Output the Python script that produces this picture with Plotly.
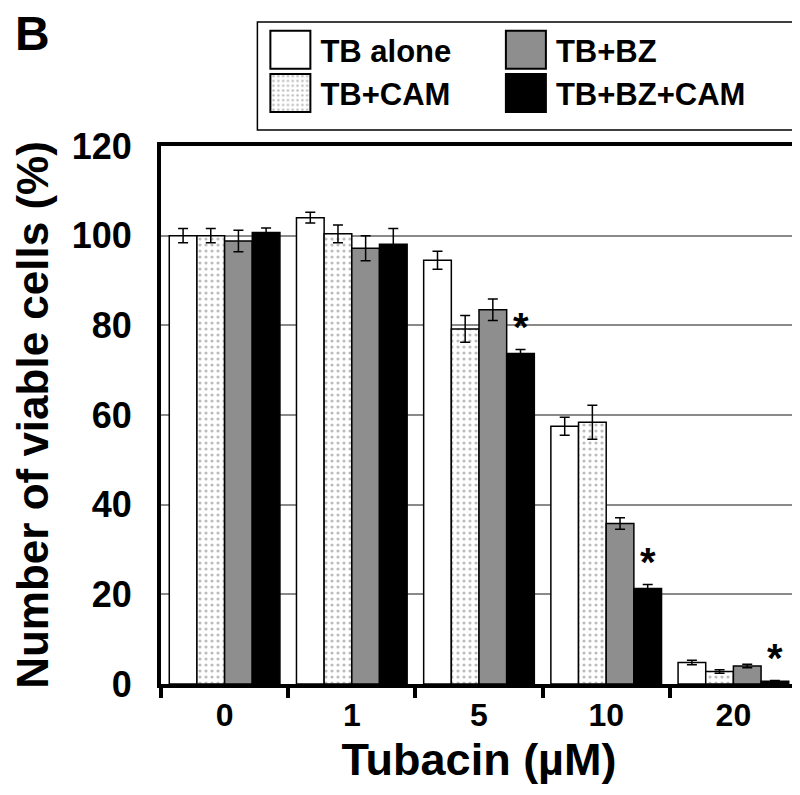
import plotly.graph_objects as go

categories = ["0", "1", "5", "10", "20"]
series_names = ["TB alone", "TB+CAM", "TB+BZ", "TB+BZ+CAM"]
tb_alone = [100.0, 104.0, 94.5, 57.5, 4.8]
tb_alone_err = [1.6, 1.2, 2.0, 2.0, 0.5]
tb_cam = [100.0, 100.4, 79.2, 58.4, 2.8]
tb_cam_err = [1.6, 2.0, 3.0, 3.8, 0.4]
tb_bz = [98.8, 97.2, 83.5, 35.8, 4.0]
tb_bz_err = [2.4, 2.8, 2.4, 1.3, 0.4]
tb_bz_cam = [100.7, 98.1, 73.7, 21.3, 0.6]
tb_bz_cam_err = [1.0, 3.5, 0.9, 0.9, 0.2]
significant = [False, False, True, True, True]

FONT = "Arial, Liberation Sans, sans-serif"
W, H = 800, 795
ML, MR, MT, MB = 153, 7, 138, 119
BARGAP = 0.13

values = [tb_alone, tb_cam, tb_bz, tb_bz_cam]
errors = [tb_alone_err, tb_cam_err, tb_bz_err, tb_bz_cam_err]
fills = ["white", "white", "#8e8e8e", "black"]
legends = ["legend", "legend", "legend2", "legend2"]

fig = go.Figure()
for name, v, e, c, lg in zip(series_names, values, errors, fills, legends):
    marker = dict(color=c, line=dict(color="black", width=1.5))
    if name == "TB+CAM":
        marker["pattern"] = dict(shape=".", fgcolor="#7a7a7a", bgcolor="white",
                                 size=6, solidity=0.22)
    fig.add_trace(go.Bar(
        x=categories, y=v, name=name, marker=marker, legend=lg, legendgroup=name,
        error_y=dict(type="data", array=e, visible=True, color="black",
                     thickness=1.5, width=5),
    ))

# significance stars above TB+BZ+CAM bars
plot_w = W - ML - MR
plot_h = H - MT - MB
bar_w = plot_w / len(categories) * (1 - BARGAP) / len(series_names)
for i, (v, e, s) in enumerate(zip(tb_bz_cam, tb_bz_cam_err, significant)):
    if s:
        fig.add_annotation(x=i, y=v + e + 5.0, xref="x", yref="y",
                           text="*", showarrow=False, xshift=1.5 * bar_w,
                           yanchor="middle",
                           font=dict(family=FONT, size=40, color="black", weight="bold"))

fig.add_annotation(x=(4 - ML) / plot_w, y=(H - MB + 3) / plot_h, xref="paper", yref="paper",
                   text="B", showarrow=False, xanchor="left", yanchor="top",
                   font=dict(family=FONT, size=48, color="black", weight="bold"))

# legend frame
fig.add_shape(type="rect", xref="paper", yref="paper",
              x0=(250 - ML) / plot_w, x1=(790 - ML) / plot_w,
              y0=(H - MB - 122) / plot_h, y1=(H - MB - 14) / plot_h,
              line=dict(color="black", width=1.5), fillcolor="rgba(0,0,0,0)")

legfont = dict(family=FONT, size=31, color="black", weight="bold")
fig.update_layout(
    width=W, height=H,
    margin=dict(l=ML, r=MR, t=MT, b=MB),
    paper_bgcolor="white", plot_bgcolor="white",
    barmode="group", bargap=BARGAP, bargroupgap=0,
    legend=dict(x=(253 - ML) / plot_w, y=(H - MB - 15) / plot_h,
                xanchor="left", yanchor="top", font=legfont, tracegroupgap=3,
                itemwidth=50, bgcolor="rgba(0,0,0,0)", traceorder="normal"),
    legend2=dict(x=(490 - ML) / plot_w, y=(H - MB - 15) / plot_h,
                 xanchor="left", yanchor="top", font=legfont, tracegroupgap=3,
                 itemwidth=50, bgcolor="rgba(0,0,0,0)", traceorder="normal"),
    xaxis=dict(type="category", showline=True, linecolor="black", linewidth=4,
               mirror=True, ticks="outside", tickson="boundaries", ticklen=10,
               tickwidth=4, tickcolor="black", tickangle=0,
               tickfont=dict(family=FONT, size=32, color="black", weight="bold"),
               title=dict(text="Tubacin (µM)", standoff=12,
                          font=dict(family=FONT, size=45, color="black", weight="bold"))),
    yaxis=dict(range=[0, 120], dtick=20, showline=True, linecolor="black",
               linewidth=4, mirror=True, ticks="", showgrid=True,
               gridcolor="#8a8a8a", gridwidth=1.5, zeroline=False,
               ticklabelstandoff=18,
               tickfont=dict(family=FONT, size=36, color="black", weight="bold"),
               title=dict(text="Number of viable cells (%)", standoff=10,
                          font=dict(family=FONT, size=44, color="black", weight="bold"))),
)

# enlarge the legend swatches to the tall boxes used in the original figure
post = """
var gd = document.getElementById('{plot_id}');
function bigSwatches(){
  gd.querySelectorAll('.legendpoints path.legendbar, .legendpoints path.legendundefined').forEach(function(p){
    p.setAttribute('d', 'M20,19H-20V-19H20Z');
    p.style.strokeWidth = '2px';
    p.style.stroke = 'black';
  });
}
bigSwatches();
gd.on('plotly_afterplot', bigSwatches);
"""

fig.write_html("out.html", post_script=post)
